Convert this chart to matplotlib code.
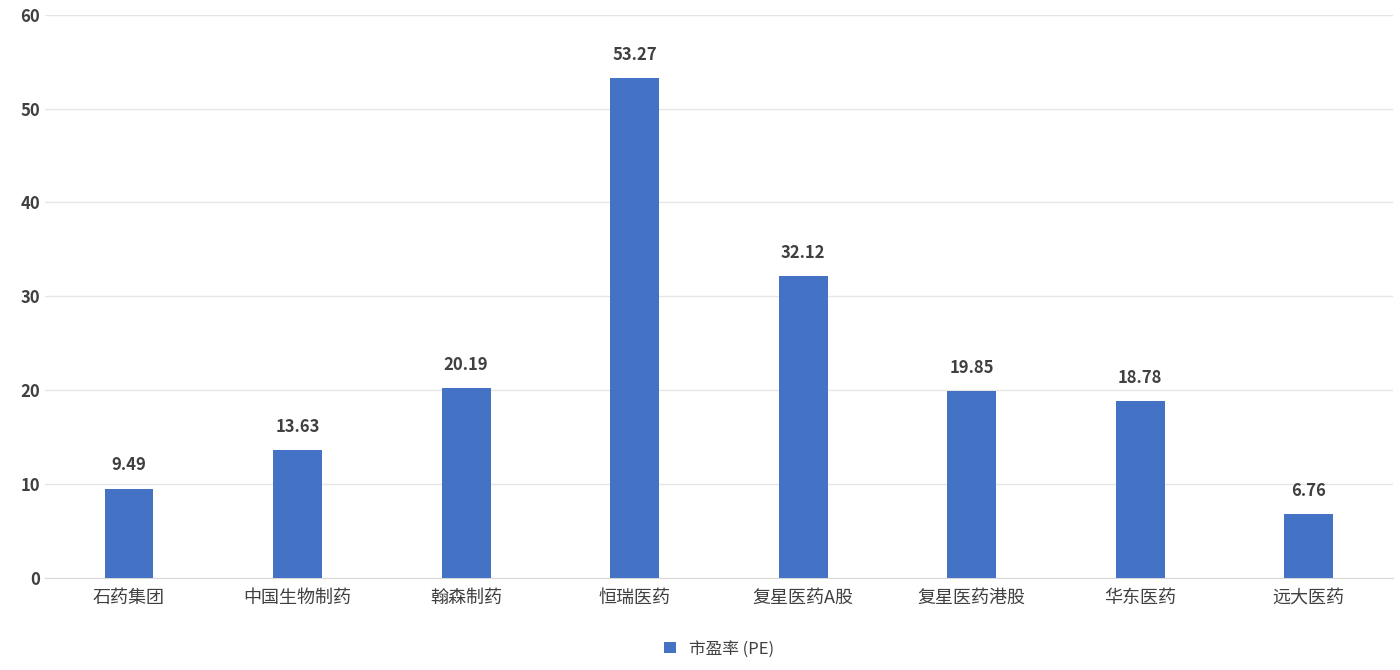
import matplotlib
matplotlib.use("Agg")
import matplotlib.pyplot as plt
import numpy as np

plt.rcParams['font.family'] = ['Noto Sans CJK SC', 'DejaVu Sans']

companies = ['石药集团', '中国生物制药', '翰森制药', '恒瑞医药', '复星医药A股', '复星医药港股', '华东医药', '远大医药']
pe = [9.49, 13.63, 20.19, 53.27, 32.12, 19.85, 18.78, 6.76]

fig, ax = plt.subplots(figsize=(14, 6.7), dpi=100)
fig.subplots_adjust(left=0.032, right=0.995, top=0.978, bottom=0.138)

x = np.arange(len(companies))
bars = ax.bar(x, pe, width=0.29, color='#4472C4', label='市盈率 (PE)', zorder=3)
for xi, v in zip(x, pe):
    ax.text(xi, v + 1.5, f'{v:.2f}', ha='center', va='bottom', fontsize=12,
            fontweight='bold', color='#404040')

ax.set_ylim(0, 60)
ax.set_xlim(-0.5, len(companies) - 0.5)
ax.set_yticks(range(0, 61, 10))
ax.set_xticks(x)
ax.set_xticklabels(companies, fontsize=13, color='#404040')
ax.tick_params(axis='y', labelsize=12, labelcolor='#404040', length=0)
ax.tick_params(axis='x', length=0, pad=8)
for lab in ax.get_yticklabels():
    lab.set_fontweight('bold')
ax.grid(axis='y', color='#e6e6e6', linewidth=1, zorder=0)
for s in ['top', 'right', 'left']:
    ax.spines[s].set_visible(False)
ax.spines['bottom'].set_color('#d9d9d9')

ax.legend(loc='upper center', bbox_to_anchor=(0.5, -0.085), frameon=False,
          fontsize=12, handlelength=0.7, handleheight=0.7, labelcolor='#404040')

plt.savefig('out.png')
